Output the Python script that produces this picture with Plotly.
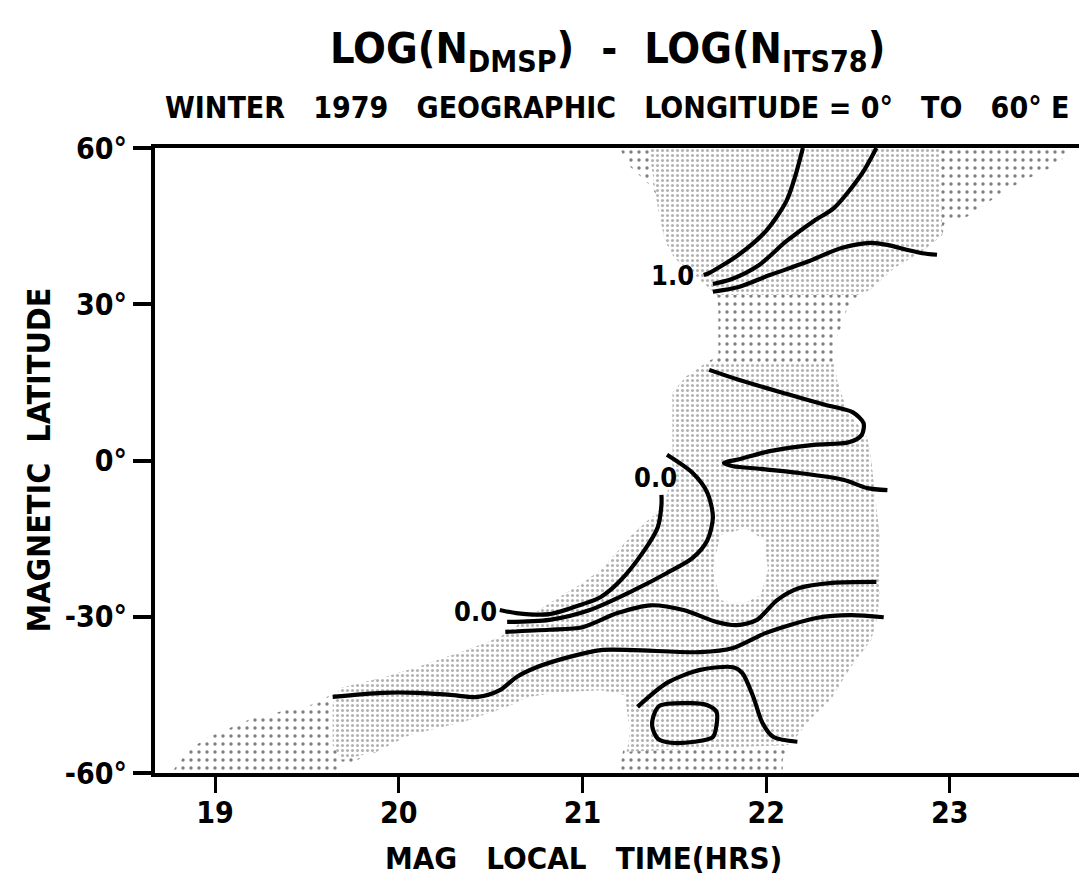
import plotly.graph_objects as go

# ---------------- data (MLT hours, magnetic latitude degrees) ----------------
lineA_t = [22.20, 22.16, 22.11, 22.00, 21.85, 21.69, 21.66]
lineA_l = [60.0, 54.8, 49.8, 44.1, 39.5, 36.0, 35.6]

lineB_t = [22.60, 22.52, 22.37, 22.26, 22.11, 21.96, 21.81, 21.71]
lineB_l = [60.0, 55.0, 48.5, 46.0, 42.1, 37.5, 34.8, 33.9]

lineC_t = [21.71, 21.85, 22.02, 22.22, 22.41, 22.57, 22.66, 22.77, 22.85, 22.93]
lineC_l = [32.4, 33.3, 35.6, 38.1, 40.8, 41.8, 41.4, 40.4, 39.8, 39.5]

lineD_t = [21.69, 21.85, 22.11, 22.32, 22.47, 22.53, 22.52, 22.45, 22.26, 22.02,
           21.86, 21.77, 21.82, 21.97, 22.18, 22.42, 22.55, 22.66]
lineD_l = [17.4, 15.5, 12.8, 10.7, 9.3, 7.2, 4.9, 3.5, 3.0, 1.8,
           0.3, -0.5, -1.1, -1.6, -2.4, -3.7, -5.3, -5.7]

lineF_t = [20.55, 20.64, 20.82, 21.00, 21.10, 21.20, 21.33, 21.41, 21.43, 21.43]
lineF_l = [-28.7, -29.3, -29.5, -27.6, -26.2, -23.3, -17.6, -12.8, -8.5, -6.6]

lineE_t = [20.59, 20.82, 21.04, 21.28, 21.46, 21.60, 21.68, 21.71, 21.68, 21.60, 21.46]
lineE_l = [-31.0, -30.6, -28.7, -24.9, -21.6, -18.7, -15.3, -10.9, -6.2, -2.4, 1.1]

lineG_t = [20.58, 20.82, 21.00, 21.19, 21.37, 21.55, 21.73, 21.84, 21.95, 22.06,
           22.18, 22.36, 22.60]
lineG_l = [-32.9, -32.5, -32.0, -29.3, -27.8, -28.7, -31.0, -31.6, -30.6, -26.8,
           -24.5, -23.5, -23.3]

lineH_t = [19.64, 19.91, 20.10, 20.28, 20.43, 20.55, 20.64, 20.75, 20.93, 21.10,
           21.28, 21.64, 21.82, 22.00, 22.28, 22.46, 22.64]
lineH_l = [-45.4, -44.6, -44.6, -45.0, -45.4, -44.1, -41.6, -39.7, -37.7, -36.4,
           -36.4, -36.8, -36.0, -33.1, -30.2, -29.7, -30.1]

lineI_t = [21.30, 21.46, 21.64, 21.82, 21.87, 21.93, 21.98, 22.04, 22.17]
lineI_l = [-47.3, -42.7, -40.2, -39.7, -40.8, -45.4, -50.4, -53.1, -54.0]

loopJ_t = [21.42, 21.59, 21.68, 21.73, 21.73, 21.71, 21.61, 21.48, 21.41, 21.38, 21.39, 21.42]
loopJ_l = [-47.1, -46.6, -47.0, -48.3, -50.8, -53.1, -54.0, -54.2, -53.4, -51.1, -48.7, -47.1]

contour_labels = ["1.0", "0.0", "0.0"]
label_t = [21.49, 21.40, 20.42]
label_l = [35.6, -3.2, -28.9]

# shaded (stippled) area outlines
shade_all_t = [21.20, 23.64, 23.64, 23.56, 23.40, 23.29, 23.21, 23.10, 22.97, 22.96,
               22.85, 22.70, 22.57, 22.48, 22.44, 22.41, 22.37, 22.37, 22.39, 22.44,
               22.55, 22.57, 22.59, 22.62, 22.62, 22.60, 22.57, 22.46, 22.35, 22.24,
               22.13, 22.09, 22.09, 21.20, 21.22, 21.26, 21.23, 21.10, 20.88, 20.70,
               20.59, 20.46, 20.35, 20.17, 20.06, 19.97, 19.88, 19.68, 19.68, 18.76,
               18.86, 18.96, 19.08, 19.19, 19.39, 19.56, 19.68, 19.91, 20.10, 20.37,
               20.55, 20.82, 21.00, 21.10, 21.28, 21.44, 21.49, 21.49, 21.49, 21.56,
               21.67, 21.74, 21.74, 21.73, 21.61, 21.50, 21.45, 21.41, 21.40, 21.36,
               21.26, 21.22]
shade_all_l = [60.0, 60.0, 58.8, 56.4, 53.7, 51.6, 49.6, 46.9, 45.4, 43.3,
               40.2, 37.0, 32.9, 31.0, 29.1, 25.8, 22.6, 18.7, 14.9, 9.7,
               4.5, 0.5, -5.7, -15.3, -24.9, -31.2, -34.5, -39.7, -46.0, -49.7,
               -53.6, -57.5, -60.0, -60.0, -55.9, -52.3, -45.0, -44.1, -44.5, -45.4,
               -47.3, -48.9, -50.2, -51.3, -52.7, -53.2, -55.9, -58.9, -60.0, -60.0,
               -55.5, -53.2, -51.3, -49.7, -47.9, -46.6, -43.7, -41.7, -39.7, -36.4,
               -33.9, -27.4, -23.5, -21.0, -13.9, -8.9, -2.4, 3.9, 13.0, 16.0,
               18.7, 20.1, 29.1, 31.8, 35.6, 38.9, 42.1, 48.5, 51.2, 53.1,
               56.4, 58.8]

dense_up_t = [21.37, 22.94, 22.96, 22.85, 22.70, 22.57, 22.51, 21.73, 21.61, 21.50,
              21.45, 21.41, 21.40, 21.37]
dense_up_l = [60.0, 60.0, 43.3, 40.2, 37.0, 32.9, 31.8, 31.8, 35.6, 38.9,
              42.1, 48.5, 51.2, 57.7]

dense_lo_t = [21.67, 22.37, 22.39, 22.44, 22.55, 22.57, 22.59, 22.62, 22.62, 22.60,
              22.57, 22.46, 22.35, 22.24, 22.13, 21.24, 21.26, 21.23, 21.10, 20.88,
              20.70, 20.59, 20.35, 20.06, 19.88, 19.69, 19.64, 19.64, 19.68, 19.91,
              20.10, 20.37, 20.55, 20.82, 21.00, 21.10, 21.28, 21.44, 21.49, 21.49,
              21.49, 21.56]
dense_lo_l = [18.7, 18.7, 14.9, 9.7, 4.5, 0.5, -5.7, -15.3, -24.9, -31.2,
              -34.5, -39.7, -46.0, -49.7, -54.6, -55.9, -52.3, -45.0, -44.1, -44.5,
              -45.4, -47.3, -50.2, -52.7, -55.9, -57.5, -54.6, -46.6, -43.7, -41.7,
              -39.7, -36.4, -33.9, -27.4, -23.5, -21.0, -13.9, -8.9, -2.4, 3.9,
              13.0, 16.0]

hole_t = [21.75, 21.89, 21.99, 22.01, 21.97, 21.86, 21.75, 21.71]
hole_l = [-14.3, -13.0, -15.3, -21.0, -25.8, -27.8, -26.8, -21.0]

x_ticks = [19, 20, 21, 22, 23]
x_ticktext = ["19", "20", "21", "22", "23"]
y_ticks = [-60, -30, 0, 30, 60]
y_ticktext = ["-60°", "-30°", "0°", "30°", "60°"]

FONT = "DejaVu Sans Condensed, DejaVu Sans, sans-serif"

fig = go.Figure()

# stippled regions
fig.add_trace(go.Scatter(x=shade_all_t, y=shade_all_l, fill="toself", mode="lines",
                         line=dict(width=0), fillcolor="rgba(0,0,0,0)",
                         fillpattern=dict(shape=".", size=8, solidity=0.14,
                                          fgcolor="#000000"),
                         hoverinfo="skip", showlegend=False))
for tt, ll in [(dense_up_t, dense_up_l), (dense_lo_t, dense_lo_l)]:
    fig.add_trace(go.Scatter(x=tt, y=ll, fill="toself", mode="lines",
                             line=dict(width=0), fillcolor="rgba(0,0,0,0)",
                             fillpattern=dict(shape=".", size=5, solidity=0.3,
                                              fgcolor="#666666", bgcolor="white"),
                             hoverinfo="skip", showlegend=False))
fig.add_trace(go.Scatter(x=hole_t, y=hole_l, fill="toself", mode="lines",
                         line=dict(width=0), fillcolor="white",
                         hoverinfo="skip", showlegend=False))

# contour lines
for tt, ll in [(lineA_t, lineA_l), (lineB_t, lineB_l), (lineC_t, lineC_l),
               (lineD_t, lineD_l), (lineE_t, lineE_l), (lineF_t, lineF_l),
               (lineG_t, lineG_l), (lineH_t, lineH_l), (lineI_t, lineI_l),
               (loopJ_t, loopJ_l)]:
    fig.add_trace(go.Scatter(x=tt, y=ll, mode="lines",
                             line=dict(color="black", width=4.2, shape="spline", smoothing=0.8),
                             hoverinfo="skip", showlegend=False))

for txt, tx, ly in zip(contour_labels, label_t, label_l):
    fig.add_annotation(x=tx, y=ly, xref="x", yref="y", text=txt, showarrow=False,
                       font=dict(family=FONT, size=27, color="black", weight="bold"))

# titles
fig.add_annotation(xref="paper", yref="paper", x=0.49, y=1.155, xanchor="center", yanchor="middle",
                   text="LOG(N<sub>DMSP</sub>)\u00a0\u00a0-\u00a0\u00a0LOG(N<sub>ITS78</sub>)",
                   showarrow=False, font=dict(family=FONT, size=43, color="black", weight="bold"))
fig.add_annotation(xref="paper", yref="paper", x=0.5005, y=1.064, xanchor="center", yanchor="middle",
                   text="WINTER\u00a0\u00a0\u00a01979\u00a0\u00a0\u00a0GEOGRAPHIC\u00a0\u00a0\u00a0LONGITUDE\u00a0=\u00a00°\u00a0\u00a0\u00a0TO\u00a0\u00a0\u00a060°\u00a0E",
                   showarrow=False, font=dict(family=FONT, size=30, color="black", weight="bold"))
fig.add_annotation(xref="paper", yref="paper", x=-0.1266, y=0.50, xanchor="center", yanchor="middle",
                   text="MAGNETIC\u00a0\u00a0LATITUDE", textangle=-90,
                   showarrow=False, font=dict(family=FONT, size=32, color="black", weight="bold"))
fig.add_annotation(xref="paper", yref="paper", x=0.464, y=-0.136, xanchor="center", yanchor="middle",
                   text="MAG\u00a0\u00a0\u00a0LOCAL\u00a0\u00a0\u00a0TIME(HRS)",
                   showarrow=False, font=dict(family=FONT, size=31, color="black", weight="bold"))

fig.update_layout(
    width=1079, height=879, autosize=False,
    margin=dict(l=155, r=0, t=148, b=106),
    paper_bgcolor="white", plot_bgcolor="white",
    showlegend=False,
    xaxis=dict(range=[18.673, 23.703], tickvals=x_ticks, ticktext=x_ticktext,
               ticks="outside", ticklen=16, tickwidth=3, tickcolor="black",
               showline=True, linewidth=4, linecolor="black", mirror=True,
               showgrid=False, zeroline=False, ticklabelstandoff=-6,
               tickfont=dict(family=FONT, size=30, color="black", weight="bold")),
    yaxis=dict(range=[-60, 60], tickvals=y_ticks, ticktext=y_ticktext,
               ticks="outside", ticklen=18, tickwidth=4, tickcolor="black",
               showline=True, linewidth=4, linecolor="black",
               showgrid=False, zeroline=False,
               tickfont=dict(family=FONT, size=30, color="black", weight="bold")),
)

fig.write_html("out.html")
